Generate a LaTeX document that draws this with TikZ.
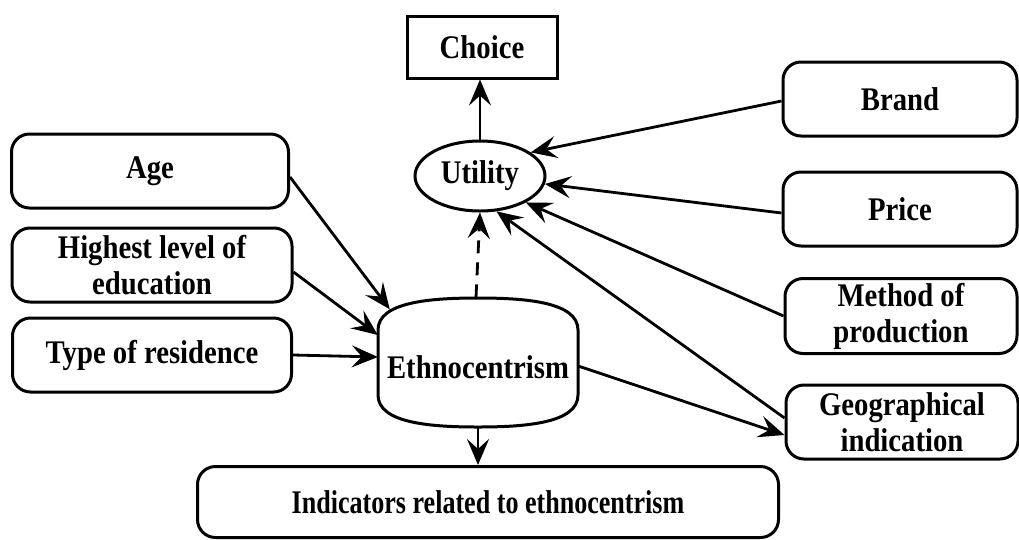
\documentclass[tikz,border=0pt]{standalone}
\usepackage{fontspec}
\setmainfont{Liberation Serif}[FakeStretch=0.87]
\newfontfamily\condensed{Liberation Serif}[FakeStretch=0.79]
\usetikzlibrary{arrows.meta,shapes.geometric,calc}
\begin{document}
\begin{tikzpicture}[x=1pt,y=-1pt,
  every node/.style={font=\fontsize{33}{36}\selectfont\bfseries, align=center, inner sep=0pt},
  rbox/.style={draw, line width=3pt, rounded corners=18pt, minimum height=74pt},
  sbox/.style={draw, line width=3pt, minimum width=150pt, minimum height=62pt},
  ell/.style={draw, ellipse, line width=3pt, minimum width=130pt, minimum height=70pt},
  conn/.style={line width=2.8pt, -{Stealth[length=26pt,width=22pt,inset=10pt]}},
  dconn/.style={conn, dash pattern=on 13pt off 9pt}
]
\useasboundingbox (0,0) rectangle (1019,539);

% nodes
\node[sbox] (choice) at (482,47) {Choice};
\node[ell] (util) at (480,176) {Utility};

\node[rbox, minimum width=234pt] (brand) at (900,99) {Brand};
\node[rbox, minimum width=234pt] (price) at (900,209) {Price};
\node[rbox, minimum width=232pt, minimum height=75pt] (method) at (901,316) {Method of\\production};
\node[rbox, minimum width=232pt] (geo) at (902,422) {Geographical\\indication};

\node[rbox, minimum width=277pt] (age) at (150,171) {Age};
\node[rbox, minimum width=280pt] (edu) at (152,265) {Highest level of\\education};
\node[rbox, minimum width=279pt] (res) at (152,355) {Type of residence};

\node[rbox, minimum width=581pt, minimum height=71pt] (ind) at (488,502)
  {\condensed\fontsize{33}{36}\selectfont\bfseries Indicators related to ethnocentrism};

% Ethnocentrism (barrel shape)
\node[minimum width=200pt, minimum height=129pt] (eth) at (478,362) {};
\draw[line width=3pt]
  (378,330) .. controls (378,302) and (430,298) .. (478,298)
  .. controls (526,298) and (578,302) .. (578,330)
  -- (578,395)
  .. controls (578,423) and (526,427) .. (478,427)
  .. controls (430,427) and (378,423) .. (378,395) -- cycle;
\node[yshift=-5pt] (ethlabel) at (eth.center) {Ethnocentrism};

% connectors
\draw[conn] (util.north) -- (util.north |- choice.south);
\draw[dconn] ($(eth.north)+(-2,0)$) -- (util.south);
\draw[conn] (eth.south) -- (eth.south |- ind.north);

\draw[conn] ($(age.east)+(0,6)$) -- ($(eth.north west)+(12,12)$);
\draw[conn] ($(edu.east)+(0,7)$) -- ($(eth.west)+(0,-27)$);
\draw[conn] (res.east) -- ($(eth.west)+(0,-5)$);

\draw[conn] ($(brand.west)+(0,2)$) -- (util.25);
\draw[conn] ($(price.west)+(0,4)$) -- (util.-7);
\draw[conn] (method.west) -- (util.-30);
\draw[conn] ($(geo.west)+(0,-4)$) -- (util.-65);
\draw[conn] ($(eth.east)+(0,4)$) -- ($(geo.west)+(0,13)$);
\end{tikzpicture}
\end{document}
